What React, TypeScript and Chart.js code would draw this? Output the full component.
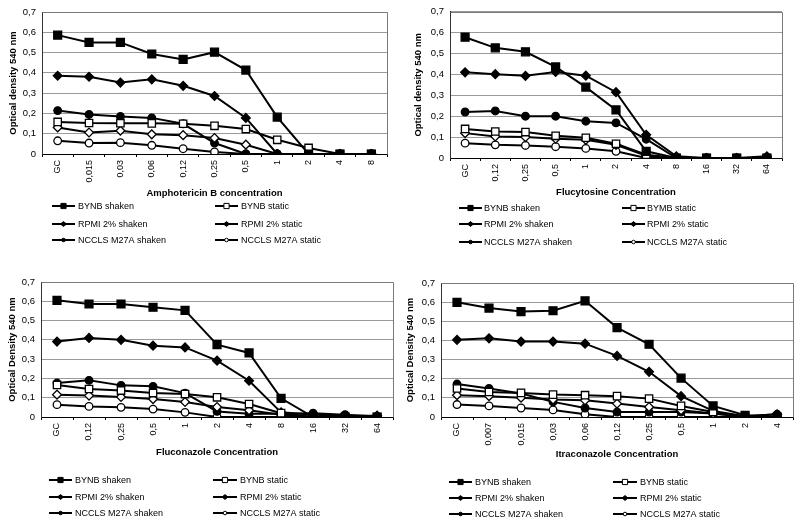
import React, { useEffect, useRef } from 'react';
import { Chart, registerables } from 'chart.js';

Chart.register(...registerables);

const FONT = '"Liberation Sans", Arial, Helvetica, sans-serif';

// ---------- Amphotericin B ----------
const amphoCategories = ['GC', '0,015', '0,03', '0,06', '0,12', '0,25', '0,5', '1', '2', '4', '8'];
const amphoBynbShaken = [0.586, 0.55, 0.55, 0.493, 0.466, 0.502, 0.414, 0.182, 0, 0, 0];
const amphoBynbStatic = [0.158, 0.153, 0.152, 0.151, 0.149, 0.139, 0.123, 0.07, 0.03, 0, 0];
const amphoRpmiShaken = [0.386, 0.381, 0.352, 0.368, 0.336, 0.286, 0.178, 0, 0, 0, 0];
const amphoRpmiStatic = [0.131, 0.106, 0.115, 0.097, 0.093, 0.079, 0.046, 0, 0, 0, 0];
const amphoNcclsShaken = [0.214, 0.195, 0.185, 0.178, 0.149, 0.054, 0, 0, 0, 0, 0];
const amphoNcclsStatic = [0.065, 0.054, 0.056, 0.043, 0.026, 0.01, 0, 0, 0, 0, 0];

// ---------- Flucytosine ----------
const flucyCategories = ['GC', '0,12', '0,25', '0,5', '1', '2', '4', '8', '16', '32', '64'];
const flucyBynbShaken = [0.578, 0.527, 0.508, 0.436, 0.339, 0.23, 0.032, 0, 0, 0, 0];
const flucyBynbStatic = [0.139, 0.127, 0.124, 0.106, 0.097, 0.068, 0.016, 0, 0, 0, 0];
const flucyRpmiShaken = [0.41, 0.401, 0.393, 0.412, 0.394, 0.315, 0.111, 0.008, 0, 0, 0.008];
const flucyRpmiStatic = [0.119, 0.103, 0.1, 0.092, 0.087, 0.063, 0.011, 0, 0, 0, 0];
const flucyNcclsShaken = [0.22, 0.225, 0.2, 0.2, 0.176, 0.168, 0.09, 0, 0, 0, 0];
const flucyNcclsStatic = [0.071, 0.063, 0.06, 0.054, 0.046, 0.032, 0, 0, 0, 0, 0];

// ---------- Fluconazole ----------
const flucoCategories = ['GC', '0,12', '0,25', '0,5', '1', '2', '4', '8', '16', '32', '64'];
const flucoBynbShaken = [0.605, 0.586, 0.586, 0.569, 0.553, 0.375, 0.332, 0.097, 0, 0, 0];
const flucoBynbStatic = [0.166, 0.145, 0.137, 0.124, 0.119, 0.102, 0.067, 0.02, 0, 0, 0];
const flucoRpmiShaken = [0.391, 0.41, 0.4, 0.37, 0.361, 0.292, 0.188, 0.024, 0.012, 0.007, 0.007];
const flucoRpmiStatic = [0.116, 0.111, 0.104, 0.093, 0.078, 0.052, 0.035, 0.012, 0, 0, 0];
const flucoNcclsShaken = [0.176, 0.19, 0.164, 0.159, 0.124, 0.029, 0.017, 0.017, 0.02, 0.012, 0.003];
const flucoNcclsStatic = [0.064, 0.055, 0.05, 0.041, 0.024, 0, 0, 0, 0, 0, 0];

// ---------- Itraconazole ----------
const itraCategories = ['GC', '0,007', '0,015', '0,03', '0,06', '0,12', '0,25', '0,5', '1', '2', '4'];
const itraBynbShaken = [0.599, 0.569, 0.551, 0.555, 0.607, 0.467, 0.38, 0.203, 0.058, 0.009, 0];
const itraBynbStatic = [0.149, 0.131, 0.126, 0.117, 0.114, 0.109, 0.096, 0.058, 0.026, 0, 0];
const itraRpmiShaken = [0.403, 0.411, 0.394, 0.394, 0.383, 0.319, 0.236, 0.109, 0.032, 0.004, 0.014];
const itraRpmiStatic = [0.114, 0.109, 0.101, 0.091, 0.087, 0.07, 0.052, 0.035, 0.018, 0, 0];
const itraNcclsShaken = [0.172, 0.149, 0.123, 0.079, 0.047, 0.026, 0.026, 0.026, 0.018, 0.004, 0.014];
const itraNcclsStatic = [0.065, 0.058, 0.047, 0.037, 0.014, 0, 0, 0, 0, 0, 0];

// ---------- Labels ----------
const seriesLabels = ['BYNB shaken', 'BYNB static', 'RPMI 2% shaken', 'RPMI 2% static', 'NCCLS M27A shaken', 'NCCLS M27A static'];
const seriesLabelsFlucy = ['BYNB shaken', 'BYMB static', 'RPMI 2% shaken', 'RPMI 2% static', 'NCCLS M27A shaken', 'NCCLS M27A static'];
const yTicks = [0, 0.1, 0.2, 0.3, 0.4, 0.5, 0.6, 0.7];

// ---------- Styles ----------
const STYLES = [
  { pointStyle: 'rect', pointRadius: 5.6, open: false, legendOpen: false, legendR: 2.6 },
  { pointStyle: 'rect', pointRadius: 5.2, open: true, legendOpen: true, legendR: 2.6 },
  { pointStyle: 'rectRot', pointRadius: 4.4, open: false, legendOpen: false, legendR: 2.4 },
  { pointStyle: 'rectRot', pointRadius: 4.4, open: true, legendOpen: false, legendR: 2.4 },
  { pointStyle: 'circle', pointRadius: 3.8, open: false, legendOpen: false, legendR: 1.8 },
  { pointStyle: 'circle', pointRadius: 3.8, open: true, legendOpen: true, legendR: 1.8 },
];

type Layout = {
  left: number; top: number; width: number; height: number;
  area: { left: number; top: number; right: number; bottom: number };
  xTitleY: number; yTitleX: number;
  legendRows: number[];
  legendCols: { x0: number; x1: number; tx: number }[];
};

type PanelProps = {
  categories: string[];
  series: number[][];
  labels: string[];
  xTitle: string;
  yTitle: string;
  layout: Layout;
};

function Panel({ categories, series, labels, xTitle, yTitle, layout }: PanelProps) {
  const ref = useRef<HTMLCanvasElement>(null);
  useEffect(() => {
    const L = layout;
    const titleSize = 9.5;
    const lh = titleSize * 1.2;
    const xAxisHeight = L.xTitleY - L.area.bottom + lh / 2;
    const padBottom = L.height - L.area.bottom - xAxisHeight;

    const datasets = series.map((data, i) => {
      const st = STYLES[i];
      return {
        label: labels[i],
        data,
        borderColor: '#000',
        borderWidth: 2,
        pointStyle: st.pointStyle as any,
        pointRadius: st.pointRadius,
        pointBackgroundColor: st.open ? '#fff' : '#000',
        pointBorderColor: '#000',
        pointBorderWidth: 1.3,
        tension: 0,
        fill: false,
      };
    });

    const framePlugin = {
      id: 'frame',
      beforeDatasetsDraw(chart: any) {
        const { ctx, chartArea: a } = chart;
        ctx.save();
        ctx.strokeStyle = '#7a7a7a';
        ctx.lineWidth = 1;
        ctx.beginPath();
        ctx.moveTo(Math.round(a.left) + 0.5, Math.round(a.top) + 0.5);
        ctx.lineTo(Math.round(a.right) + 0.5, Math.round(a.top) + 0.5);
        ctx.lineTo(Math.round(a.right) + 0.5, Math.round(a.bottom) + 0.5);
        ctx.stroke();
        ctx.restore();
      },
    };

    const legendPlugin = {
      id: 'panelLegend',
      afterDraw(chart: any) {
        const { ctx } = chart;
        ctx.save();
        chart.data.datasets.forEach((ds: any, i: number) => {
          const row = Math.floor(i / 2);
          const col = L.legendCols[i % 2];
          const y = L.legendRows[row];
          ctx.strokeStyle = '#000';
          ctx.lineWidth = 2;
          ctx.beginPath();
          ctx.moveTo(col.x0, y);
          ctx.lineTo(col.x1, y);
          ctx.stroke();
          const cx = (col.x0 + col.x1) / 2;
          const st = STYLES[i];
          const r = st.legendR;
          ctx.fillStyle = st.legendOpen ? '#fff' : '#000';
          ctx.lineWidth = 1;
          ctx.beginPath();
          if (st.pointStyle === 'rect') {
            ctx.rect(cx - r, y - r, 2 * r, 2 * r);
          } else if (st.pointStyle === 'rectRot') {
            ctx.moveTo(cx - r - 0.6, y);
            ctx.lineTo(cx, y - r);
            ctx.lineTo(cx + r + 0.6, y);
            ctx.lineTo(cx, y + r);
            ctx.closePath();
          } else {
            ctx.arc(cx, y, r, 0, Math.PI * 2);
          }
          ctx.fill();
          ctx.stroke();
          ctx.fillStyle = '#000';
          ctx.font = `9px ${FONT}`;
          ctx.textBaseline = 'middle';
          ctx.textAlign = 'left';
          ctx.fillText(ds.label, col.tx, y + 0.5);
        });
        ctx.restore();
      },
    };

    const chart = new Chart(ref.current as HTMLCanvasElement, {
      type: 'line',
      data: { labels: categories, datasets },
      options: {
        responsive: false,
        animation: false,
        devicePixelRatio: 1,
        layout: {
          padding: { left: 0, top: L.area.top, right: L.width - L.area.right, bottom: padBottom },
        },
        plugins: {
          legend: { display: false },
          tooltip: { enabled: false },
        },
        scales: {
          x: {
            type: 'category',
            offset: true,
            grid: {
              offset: true,
              drawOnChartArea: false,
              drawTicks: true,
              tickLength: 3,
              tickColor: '#000',
              color: '#000',
            },
            border: { color: '#000', width: 1 },
            ticks: {
              autoSkip: false,
              maxRotation: 90,
              minRotation: 90,
              padding: 3,
              color: '#000',
              font: { family: FONT, size: 9 },
            },
            title: {
              display: true,
              text: xTitle,
              color: '#000',
              font: { family: FONT, size: titleSize, weight: 'bold' },
              padding: 0,
            },
            afterFit: (s: any) => { s.height = xAxisHeight; },
          },
          y: {
            min: 0,
            max: 0.7,
            afterBuildTicks: (s: any) => { s.ticks = yTicks.map((v) => ({ value: v })); },
            ticks: {
              padding: 6,
              color: '#000',
              font: { family: FONT, size: 9.5 },
              callback: (v: any) => (Number(v) === 0 ? '0' : Number(v).toFixed(1).replace('.', ',')),
            },
            grid: { color: '#9a9a9a', drawTicks: false, lineWidth: 1 },
            border: { color: '#333', width: 1 },
            title: {
              display: true,
              text: yTitle,
              color: '#000',
              font: { family: FONT, size: titleSize, weight: 'bold' },
              padding: { top: L.yTitleX - lh / 2, bottom: 0 },
            },
            afterFit: (s: any) => { s.width = L.area.left; },
          },
        },
      } as any,
      plugins: [framePlugin, legendPlugin],
    });
    return () => chart.destroy();
  }, []);

  return (
    <canvas
      ref={ref}
      width={layout.width}
      height={layout.height}
      style={{ position: 'absolute', left: layout.left, top: layout.top, width: layout.width, height: layout.height }}
    />
  );
}

const layoutTL: Layout = {
  left: 0, top: 0, width: 400, height: 262,
  area: { left: 42, top: 12, right: 387, bottom: 154 },
  xTitleY: 193, yTitleX: 13.5,
  legendRows: [206, 224, 240],
  legendCols: [{ x0: 52, x1: 75, tx: 78 }, { x0: 215, x1: 238, tx: 241 }],
};
const layoutTR: Layout = {
  left: 400, top: 0, width: 400, height: 262,
  area: { left: 50, top: 11, right: 382, bottom: 158 },
  xTitleY: 192, yTitleX: 18,
  legendRows: [208, 224, 242],
  legendCols: [{ x0: 59, x1: 82, tx: 84 }, { x0: 222, x1: 245, tx: 247 }],
};
const layoutBL: Layout = {
  left: 0, top: 262, width: 400, height: 263,
  area: { left: 41, top: 20, right: 395, bottom: 155 },
  xTitleY: 190, yTitleX: 12,
  legendRows: [218, 235, 251],
  legendCols: [{ x0: 49, x1: 72, tx: 75 }, { x0: 213, x1: 237, tx: 240 }],
};
const layoutBR: Layout = {
  left: 400, top: 262, width: 400, height: 263,
  area: { left: 41, top: 21, right: 397, bottom: 155 },
  xTitleY: 192, yTitleX: 10.5,
  legendRows: [220, 236, 252],
  legendCols: [{ x0: 49, x1: 72, tx: 75 }, { x0: 213, x1: 237, tx: 240 }],
};

export default function App() {
  return (
    <div style={{ position: 'absolute', left: 0, top: 0, width: 800, height: 525, background: '#fff', overflow: 'hidden' }}>
      <Panel
        categories={amphoCategories}
        series={[amphoBynbShaken, amphoBynbStatic, amphoRpmiShaken, amphoRpmiStatic, amphoNcclsShaken, amphoNcclsStatic]}
        labels={seriesLabels}
        xTitle="Amphotericin B concentration"
        yTitle="Optical density 540 nm"
        layout={layoutTL}
      />
      <Panel
        categories={flucyCategories}
        series={[flucyBynbShaken, flucyBynbStatic, flucyRpmiShaken, flucyRpmiStatic, flucyNcclsShaken, flucyNcclsStatic]}
        labels={seriesLabelsFlucy}
        xTitle="Flucytosine Concentration"
        yTitle="Optical density 540 nm"
        layout={layoutTR}
      />
      <Panel
        categories={flucoCategories}
        series={[flucoBynbShaken, flucoBynbStatic, flucoRpmiShaken, flucoRpmiStatic, flucoNcclsShaken, flucoNcclsStatic]}
        labels={seriesLabels}
        xTitle="Fluconazole Concentration"
        yTitle="Optical Density 540 nm"
        layout={layoutBL}
      />
      <Panel
        categories={itraCategories}
        series={[itraBynbShaken, itraBynbStatic, itraRpmiShaken, itraRpmiStatic, itraNcclsShaken, itraNcclsStatic]}
        labels={seriesLabels}
        xTitle="Itraconazole Concentration"
        yTitle="Optical Density 540 nm"
        layout={layoutBR}
      />
    </div>
  );
}
